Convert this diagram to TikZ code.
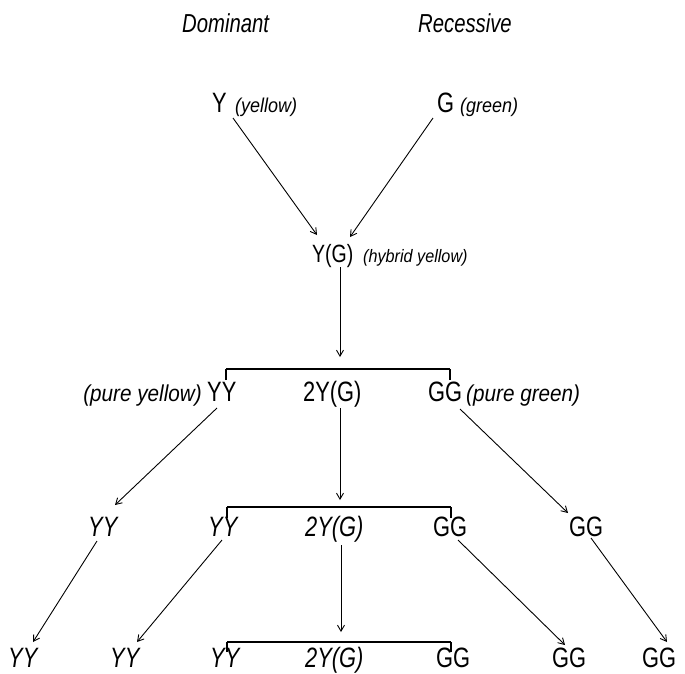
\documentclass[tikz,border=0pt]{standalone}
\usepackage{fontspec}
\usetikzlibrary{arrows.meta}
\newfontfamily\symfont{Liberation Sans}[FakeStretch=0.78]
\newfontfamily\labfont{Liberation Sans}[FakeStretch=0.9]
\newfontfamily\headfont{Liberation Sans}[FakeStretch=0.78]
\tikzset{
  sym/.style={anchor=base west, inner sep=0pt, font=\symfont\fontsize{28}{28}\selectfont},
  symi/.style={anchor=base west, inner sep=0pt, font=\symfont\itshape\fontsize{28}{28}\selectfont},
  lab/.style={anchor=base west, inner sep=0pt, font=\labfont\itshape\fontsize{#1}{#1}\selectfont},
  lab/.default=22,
  head/.style={anchor=base west, inner sep=0pt, font=\headfont\itshape\fontsize{26}{26}\selectfont},
  arr/.style={line width=0.9pt, -{Straight Barb[length=6pt,width=7pt,line width=0.9pt]}},
  brk/.style={line width=1.7pt, line cap=butt},
  tick/.style={line width=1.1pt}
}
\begin{document}
\begin{tikzpicture}[x=1pt,y=-1pt]
\useasboundingbox (0,0) rectangle (685,673);
% headings
\node[head] (dom) at (182,32) {Dominant};
\node[head] (rec) at (418,32) {Recessive};
% row 1
\node[sym] (y1) at (212,112) {Y};
\node[lab=20] (y1l) at (235,112) {(yellow)};
\node[sym] (g1) at (437,112) {G};
\node[lab=20] (g1l) at (460,112) {(green)};
% hybrid
\node[sym,font=\symfont\fontsize{25}{25}\selectfont] (yg) at (312,262) {Y(G)};
\node[lab=18] (ygl) at (363,262) {(hybrid yellow)};
% row 2
\node[lab=23,anchor=base east] (r2yyl) at (202,401) {(pure yellow)};
\node[sym] (r2yy) at (207,401) {YY};
\node[sym] (r2mid) at (303,401) {2Y(G)};
\node[sym] (r2gg) at (428,401) {GG};
\node[lab=23] (r2ggl) at (466,401) {(pure green)};
% row 3
\node[symi] (r3yy1) at (88,536) {YY};
\node[symi] (r3yy2) at (208,536) {YY};
\node[symi] (r3mid) at (305,536) {2Y(G)};
\node[sym] (r3gg1) at (433,536) {GG};
\node[sym] (r3gg2) at (569,536) {GG};
% row 4
\node[symi] (r4yy1) at (8,667) {YY};
\node[symi] (r4yy2) at (110,667) {YY};
\node[symi] (r4yy3) at (210,667) {YY};
\node[symi] (r4mid) at (305,667) {2Y(G)};
\node[sym] (r4gg1) at (436,667) {GG};
\node[sym] (r4gg2) at (552,667) {GG};
\node[sym] (r4gg3) at (642,667) {GG};
% arrows into hybrid
\draw[arr] ([shift={(21,6)}]y1.base west) -- ([shift={(5,-27)}]yg.base west);
\draw[arr] ([shift={(-4,6)}]g1.base west) -- ([shift={(38,-25)}]yg.base west);
\draw[arr] ([shift={(28,5)}]yg.base west) -- ([shift={(37,-44)}]r2mid.base west);
% bracket 1
\draw[tick] ([shift={(19,-21)}]r2yy.base west) -- ([shift={(19,-32)}]r2yy.base west);
\draw[brk] ([shift={(19,-32)}]r2yy.base west) -- ([shift={(22,-32)}]r2gg.base west);
\draw[tick] ([shift={(22,-32)}]r2gg.base west) -- ([shift={(22,-21)}]r2gg.base west);
% row 2 -> row 3
\draw[arr] ([shift={(10,7)}]r2yy.base west) -- ([shift={(27,-31)}]r3yy1.base west);
\draw[arr] ([shift={(37,7)}]r2mid.base west) -- ([shift={(35,-36)}]r3mid.base west);
\draw[arr] ([shift={(32,8)}]r2gg.base west) -- ([shift={(-1,-23)}]r3gg2.base west);
% bracket 2
\draw[tick] ([shift={(19,-18)}]r3yy2.base west) -- ([shift={(19,-29)}]r3yy2.base west);
\draw[brk] ([shift={(19,-29)}]r3yy2.base west) -- ([shift={(18,-29)}]r3gg1.base west);
\draw[tick] ([shift={(18,-29)}]r3gg1.base west) -- ([shift={(18,-18)}]r3gg1.base west);
% row 3 -> row 4
\draw[arr] ([shift={(9,5)}]r3yy1.base west) -- ([shift={(25,-25)}]r4yy1.base west);
\draw[arr] ([shift={(14,4)}]r3yy2.base west) -- ([shift={(27,-25)}]r4yy2.base west);
\draw[arr] ([shift={(36,9)}]r3mid.base west) -- ([shift={(36,-35)}]r4mid.base west);
\draw[arr] ([shift={(25,4)}]r3gg1.base west) -- ([shift={(13,-22)}]r4gg2.base west);
\draw[arr] ([shift={(22,2)}]r3gg2.base west) -- ([shift={(25,-25)}]r4gg3.base west);
% bracket 3
\draw[tick] ([shift={(17,-15)}]r4yy3.base west) -- ([shift={(17,-25)}]r4yy3.base west);
\draw[brk] ([shift={(17,-25)}]r4yy3.base west) -- ([shift={(15,-25)}]r4gg1.base west);
\draw[tick] ([shift={(15,-25)}]r4gg1.base west) -- ([shift={(15,-15)}]r4gg1.base west);
\end{tikzpicture}
\end{document}
